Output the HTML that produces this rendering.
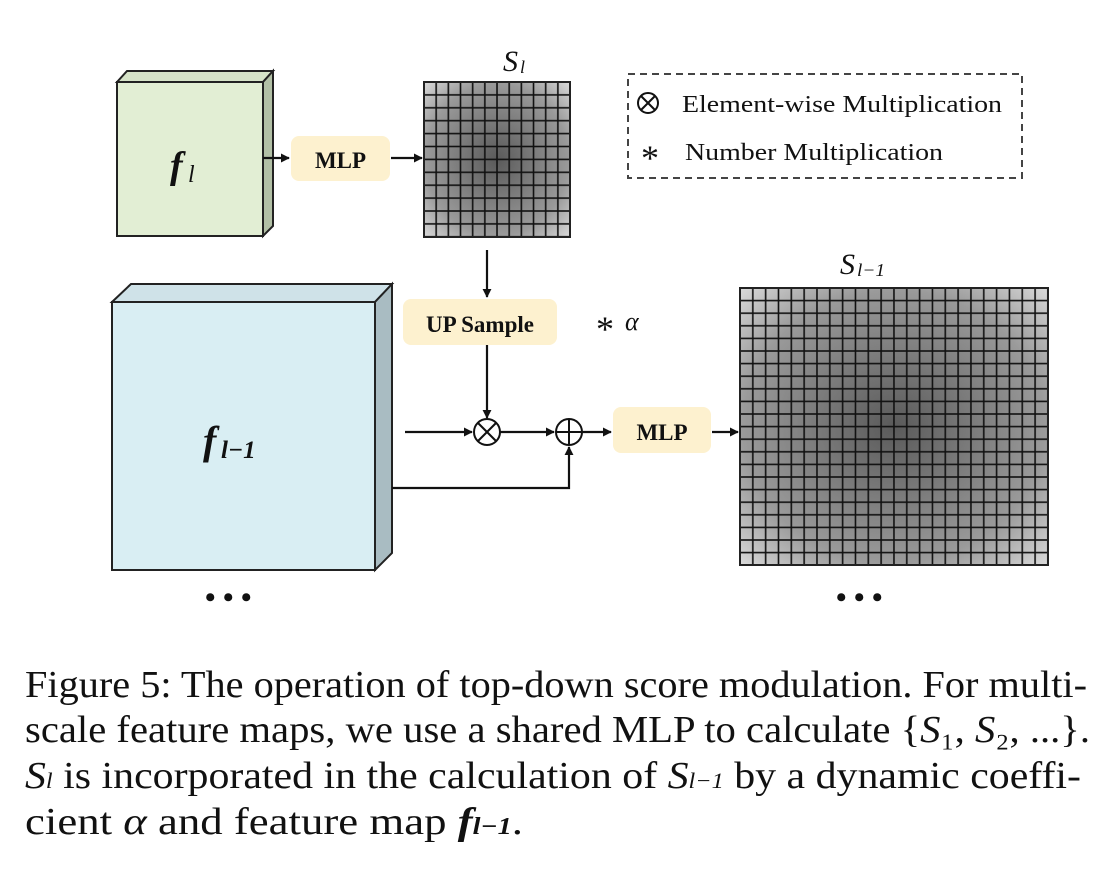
<!DOCTYPE html>
<html><head><meta charset="utf-8"><style>
html,body{margin:0;padding:0;background:#fff;width:1108px;height:872px;overflow:hidden}
svg{display:block}
text{font-family:"Liberation Serif",serif;fill:#111}
</style></head><body>
<svg width="1108" height="872" viewBox="0 0 1108 872" xmlns="http://www.w3.org/2000/svg">
<defs>
<marker id="ar" viewBox="0 0 10 10" refX="9" refY="5" markerWidth="9" markerHeight="9" markerUnits="userSpaceOnUse" orient="auto"><path d="M0,0 L10,5 L0,10 z" fill="#111"/></marker>
<radialGradient id="g1" cx="0.5" cy="0.5" r="0.7"><stop offset="0" stop-color="#5a5a5a"/><stop offset="0.7" stop-color="#9a9a9a"/><stop offset="1" stop-color="#d8d8d8"/></radialGradient>
<pattern id="p1" x="424" y="82" width="12.17" height="12.9" patternUnits="userSpaceOnUse"><rect width="12.17" height="12.9" fill="none" stroke="#111" stroke-width="1.6"/></pattern>
<pattern id="p2" x="740" y="288" width="12.83" height="12.6" patternUnits="userSpaceOnUse"><rect width="12.83" height="12.6" fill="none" stroke="#111" stroke-width="1.6"/></pattern>
</defs>

<polygon points="117,82 127,71 273,71 263,82" fill="#d6e3c8" stroke="#222" stroke-width="2"/>
<polygon points="263,82 273,71 273,226 263,236" fill="#b2c0a6" stroke="#222" stroke-width="2"/>
<rect x="117" y="82" width="146" height="154" fill="#e2eed4" stroke="#222" stroke-width="2"/>
<text x="170" y="178" font-size="38" font-weight="bold" font-style="italic">f</text>
<text x="188" y="182" font-size="24" font-style="italic">l</text>

<line x1="263" y1="158" x2="289" y2="158" stroke="#111" stroke-width="2.2" marker-end="url(#ar)"/>
<rect x="291" y="136" width="99" height="45" rx="8" fill="#fdf1cf"/>
<text x="340.5" y="168" font-size="23" font-weight="bold" text-anchor="middle">MLP</text>
<line x1="391" y1="158" x2="422" y2="158" stroke="#111" stroke-width="2.2" marker-end="url(#ar)"/>

<rect x="424" y="82" width="146" height="155" fill="url(#g1)"/>
<rect x="424" y="82" width="146" height="155" fill="url(#p1)" stroke="#222" stroke-width="2"/>
<text x="503" y="71" font-size="30" font-style="italic">S</text>
<text x="520" y="73" font-size="18" font-style="italic">l</text>

<rect x="628" y="74" width="394" height="104" fill="none" stroke="#444" stroke-width="2" stroke-dasharray="7,5"/>
<circle cx="648" cy="103" r="10" fill="none" stroke="#111" stroke-width="2"/>
<line x1="641" y1="96" x2="655" y2="110" stroke="#111" stroke-width="2"/>
<line x1="655" y1="96" x2="641" y2="110" stroke="#111" stroke-width="2"/>
<text x="682" y="112" font-size="24" textLength="320" lengthAdjust="spacingAndGlyphs">Element-wise Multiplication</text>
<text x="641" y="170" font-size="36">*</text>
<text x="685" y="160" font-size="24" textLength="258" lengthAdjust="spacingAndGlyphs">Number Multiplication</text>

<line x1="487" y1="250" x2="487" y2="297" stroke="#111" stroke-width="2.2" marker-end="url(#ar)"/>
<rect x="403" y="299" width="154" height="46" rx="8" fill="#fdf1cf"/>
<text x="480" y="332" font-size="23" font-weight="bold" text-anchor="middle">UP Sample</text>
<text x="596" y="341" font-size="36">*</text>
<text x="625" y="330" font-size="26" font-style="italic">α</text>
<line x1="487" y1="345" x2="487" y2="418" stroke="#111" stroke-width="2.2" marker-end="url(#ar)"/>

<polygon points="112,302 131,284 392,284 375,302" fill="#cfe2e8" stroke="#222" stroke-width="2"/>
<polygon points="375,302 392,284 392,553 375,570" fill="#a9bcc2" stroke="#222" stroke-width="2"/>
<rect x="112" y="302" width="263" height="268" fill="#d9eef3" stroke="#222" stroke-width="2"/>
<text x="203" y="454" font-size="40" font-weight="bold" font-style="italic">f</text>
<text x="221" y="458" font-size="25" font-weight="bold" font-style="italic">l−1</text>

<line x1="405" y1="432" x2="472" y2="432" stroke="#111" stroke-width="2.2" marker-end="url(#ar)"/>
<circle cx="487" cy="432" r="13" fill="#fff" stroke="#111" stroke-width="2"/>
<line x1="478" y1="423" x2="496" y2="441" stroke="#111" stroke-width="2"/>
<line x1="496" y1="423" x2="478" y2="441" stroke="#111" stroke-width="2"/>
<line x1="500" y1="432" x2="554" y2="432" stroke="#111" stroke-width="2.2" marker-end="url(#ar)"/>
<circle cx="569" cy="432" r="13" fill="#fff" stroke="#111" stroke-width="2"/>
<line x1="556" y1="432" x2="582" y2="432" stroke="#111" stroke-width="2"/>
<line x1="569" y1="419" x2="569" y2="445" stroke="#111" stroke-width="2"/>
<polyline points="392,488 569,488 569,447" fill="none" stroke="#111" stroke-width="2.2" marker-end="url(#ar)"/>
<line x1="582" y1="432" x2="611" y2="432" stroke="#111" stroke-width="2.2" marker-end="url(#ar)"/>
<rect x="613" y="407" width="98" height="46" rx="8" fill="#fdf1cf"/>
<text x="662" y="440" font-size="23" font-weight="bold" text-anchor="middle">MLP</text>
<line x1="712" y1="432" x2="738" y2="432" stroke="#111" stroke-width="2.2" marker-end="url(#ar)"/>

<rect x="740" y="288" width="308" height="277" fill="url(#g1)"/>
<rect x="740" y="288" width="308" height="277" fill="url(#p2)" stroke="#222" stroke-width="2"/>
<text x="840" y="274" font-size="30" font-style="italic">S</text>
<text x="857" y="276" font-size="18" font-style="italic" textLength="28" lengthAdjust="spacingAndGlyphs">l−1</text>

<text x="205" y="607" font-size="30" font-weight="bold">• • •</text>
<text x="836" y="607" font-size="30" font-weight="bold">• • •</text>

<text x="25" y="697" font-size="38" textLength="1062" lengthAdjust="spacingAndGlyphs">Figure 5: The operation of top-down score modulation. For multi-</text>
<text x="25" y="742" font-size="38" textLength="1065" lengthAdjust="spacingAndGlyphs">scale feature maps, we use a shared MLP to calculate {<tspan font-style="italic">S</tspan>₁, <tspan font-style="italic">S</tspan>₂, ...}.</text>
<text x="25" y="788" font-size="38" textLength="1056" lengthAdjust="spacingAndGlyphs"><tspan font-style="italic">S</tspan><tspan font-style="italic" font-size="22">l</tspan> is incorporated in the calculation of <tspan font-style="italic">S</tspan><tspan font-style="italic" font-size="22">l−1</tspan> by a dynamic coeffi-</text>
<text x="25" y="834" font-size="38" textLength="498" lengthAdjust="spacingAndGlyphs">cient <tspan font-style="italic">α</tspan> and feature map <tspan font-weight="bold" font-style="italic">f</tspan><tspan font-weight="bold" font-style="italic" font-size="24">l−1</tspan>.</text>
</svg>
</body></html>
